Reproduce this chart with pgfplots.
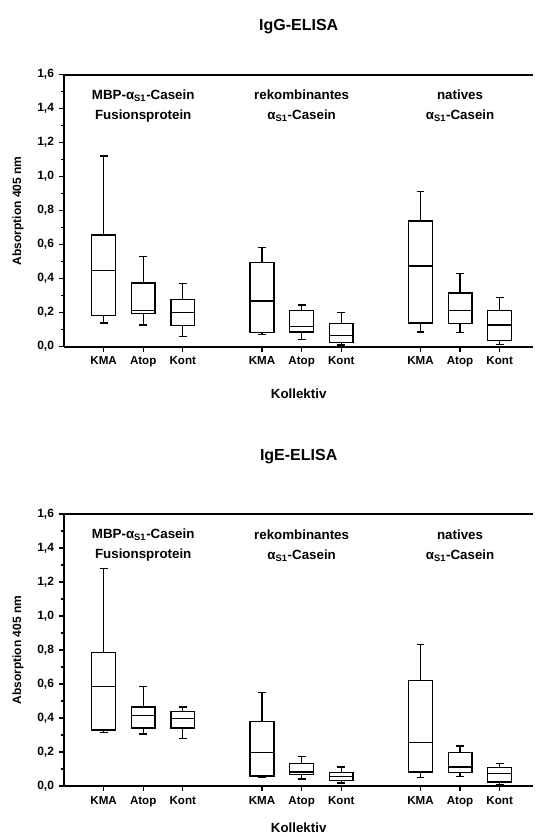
\documentclass[border=0pt]{standalone}
\usepackage{fontspec}
\setmainfont{Liberation Sans}
\usepackage{pgfplots}
\pgfplotsset{compat=1.18}
\usepgfplotslibrary{statistics}

% one box: position, lower whisker, lower quartile, median, upper quartile, upper whisker
\newcommand{\bx}[6]{\addplot[black, line width=1pt, solid,
  boxplot prepared={draw direction=y, draw position=#1, lower whisker=#2,
    lower quartile=#3, median=#4, upper quartile=#5, upper whisker=#6,
    box extend=0.6, whisker extend=0.2}] coordinates {};}

\tikzset{annot/.style={align=center, font=\bfseries\fontsize{10}{15}\selectfont}}

\pgfplotsset{
  elisa/.style={
    scale only axis, width=352pt, height=204pt,
    xmin=0, xmax=11.85, ymin=0, ymax=1.6,
    axis x line=box, axis y line=left,
    axis line style={-, line width=1.2pt},
    xtick pos=bottom, ytick pos=left,
    tick align=outside, major tick length=4pt, minor tick length=2.5pt,
    every tick/.style={black, line width=0.9pt},
    xtick={1,2,3,5,6,7,9,10,11},
    xticklabels={KMA,Atop,Kont,KMA,Atop,Kont,KMA,Atop,Kont},
    ytick={0,0.2,...,1.6}, minor y tick num=1,
    x tick label style={font=\bfseries\fontsize{8.7}{10}\selectfont},
    y tick label style={font=\bfseries\fontsize{9}{10}\selectfont},
    yticklabel style={/pgf/number format/.cd, fixed, fixed zerofill,
      precision=1, use comma, assume math mode=true},
    ylabel={Absorption 405 nm},
    ylabel style={at={(axis description cs:-0.098,0.5)}, anchor=center,
      font=\bfseries\fontsize{9}{10}\selectfont},
    xlabel={Kollektiv},
    xlabel style={at={(axis description cs:0.5,0)}, anchor=center,
      font=\bfseries\fontsize{10}{12}\selectfont},
    title style={at={(axis description cs:0.5,1)}, anchor=center,
      font=\bfseries\fontsize{12}{14}\selectfont},
  },
}

\begin{document}
\begin{tikzpicture}
\useasboundingbox (0,0) rectangle (402pt,627.75pt);

% IgG
\begin{axis}[elisa, at={(48pt,367.7pt)}, anchor=south west,
  title={IgG-ELISA}, title style={yshift=30pt}, xlabel style={yshift=-35pt}]
\bx{1}{0.139}{0.182}{0.449}{0.658}{1.121}
\bx{2}{0.127}{0.195}{0.215}{0.375}{0.531}
\bx{3}{0.061}{0.123}{0.201}{0.279}{0.371}
\bx{5}{0.071}{0.084}{0.269}{0.494}{0.582}
\bx{6}{0.041}{0.086}{0.120}{0.212}{0.245}
\bx{7}{0.010}{0.025}{0.065}{0.135}{0.200}
\bx{9}{0.086}{0.139}{0.475}{0.739}{0.914}
\bx{10}{0.082}{0.135}{0.212}{0.316}{0.429}
\bx{11}{0.012}{0.035}{0.127}{0.214}{0.290}
\node[annot] at (axis cs:2,1.415) {MBP-α\textsubscript{S1}-Casein\\Fusionsprotein};
\node[annot] at (axis cs:6,1.415) {rekombinantes\\α\textsubscript{S1}-Casein};
\node[annot] at (axis cs:10,1.415) {natives\\α\textsubscript{S1}-Casein};
\end{axis}

% IgE
\begin{axis}[elisa, at={(48pt,38.25pt)}, anchor=south west,
  title={IgE-ELISA}, title style={yshift=37pt}, xlabel style={yshift=-31pt}]
\bx{1}{0.316}{0.330}{0.584}{0.787}{1.278}
\bx{2}{0.305}{0.342}{0.414}{0.465}{0.586}
\bx{3}{0.279}{0.342}{0.398}{0.440}{0.465}
\bx{5}{0.049}{0.059}{0.198}{0.378}{0.551}
\bx{6}{0.041}{0.067}{0.082}{0.133}{0.175}
\bx{7}{0.018}{0.031}{0.057}{0.080}{0.112}
\bx{9}{0.049}{0.082}{0.257}{0.620}{0.831}
\bx{10}{0.055}{0.080}{0.112}{0.198}{0.235}
\bx{11}{0.008}{0.024}{0.075}{0.110}{0.133}
\node[annot] at (axis cs:2,1.415) {MBP-α\textsubscript{S1}-Casein\\Fusionsprotein};
\node[annot] at (axis cs:6,1.415) {rekombinantes\\α\textsubscript{S1}-Casein};
\node[annot] at (axis cs:10,1.415) {natives\\α\textsubscript{S1}-Casein};
\end{axis}
\end{tikzpicture}
\end{document}
